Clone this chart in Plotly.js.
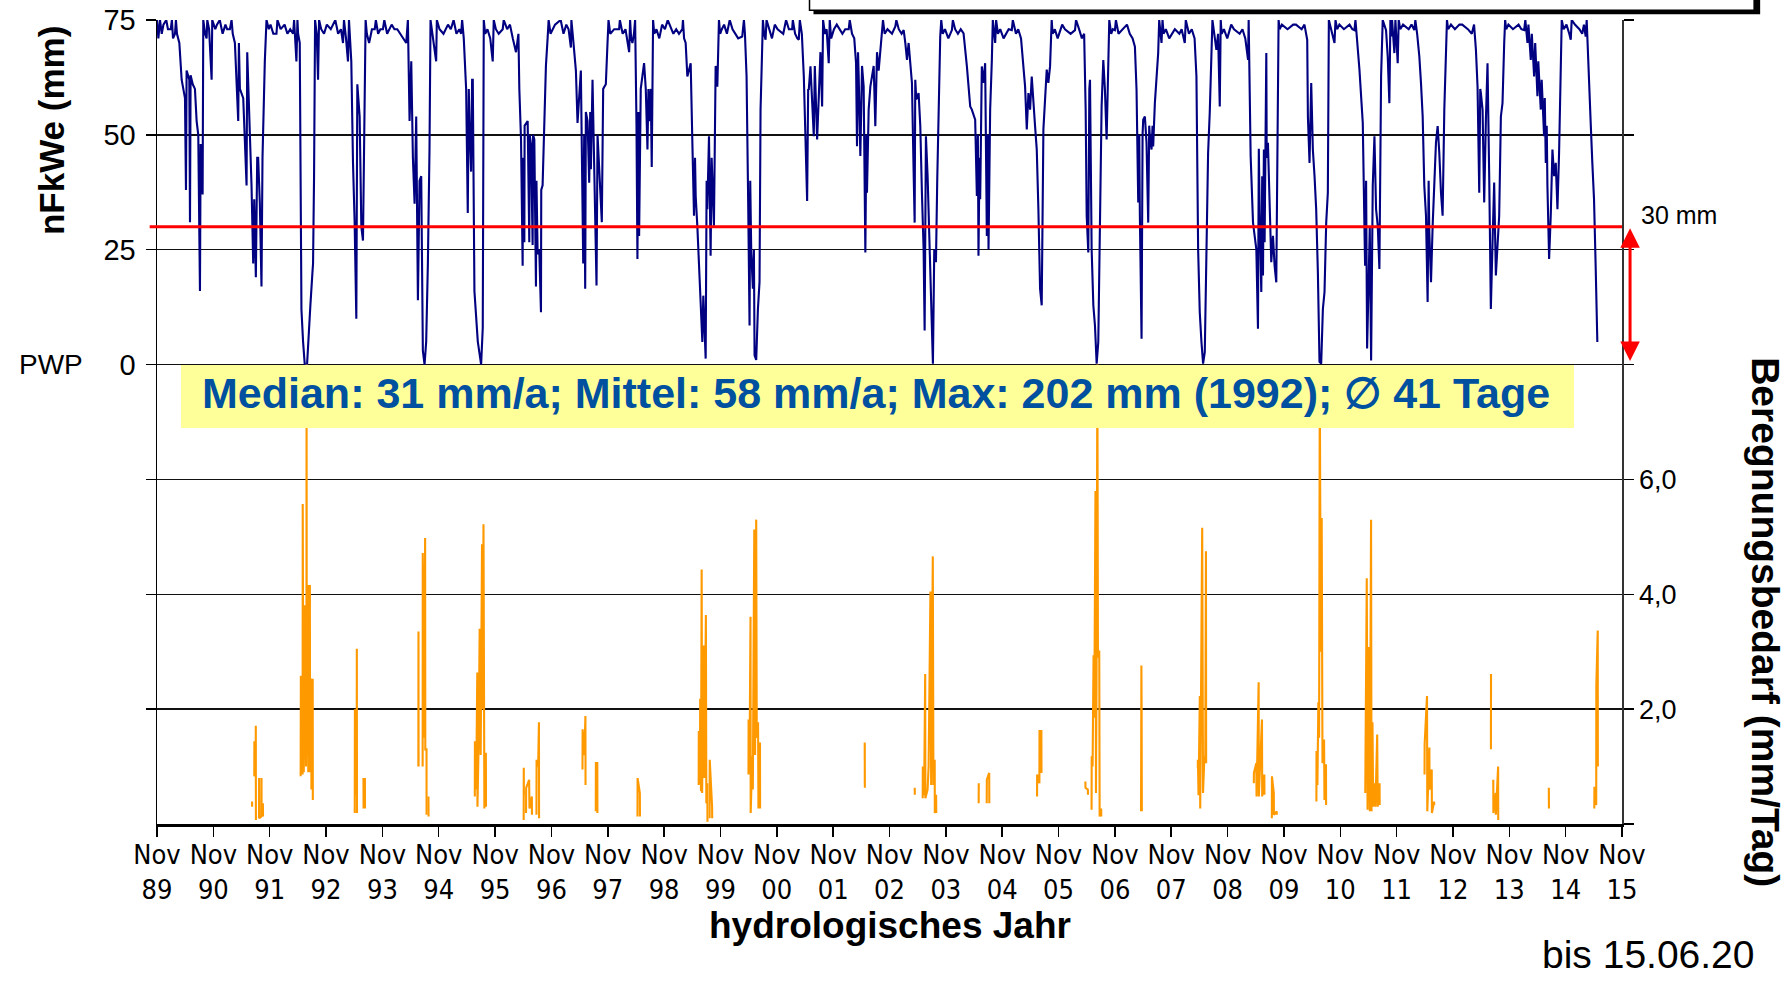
<!DOCTYPE html>
<html>
<head>
<meta charset="utf-8">
<script src="https://cdn.plot.ly/plotly-3.0.1.min.js"></script>
<style>
html,body{margin:0;padding:0;background:#fff;}
#chart{width:1789px;height:981px;}
</style>
</head>
<body>
<div id="chart"></div>
<script>
// ---- tick labels (hydrological years start in November) ----
const tickYears = [1989,1990,1991,1992,1993,1994,1995,1996,1997,1998,1999,2000,2001,2002,2003,2004,2005,2006,2007,2008,2009,2010,2011,2012,2013,2014,2015];
const novFraction = 0.8356; // 1 November as fraction of the calendar year

// ---- nFkWe (mm), soil water (decimal year, value) ----
const nfkT = [
1989.836,1989.86,1989.889,1989.95,1990.00,1990.08,1990.10,1990.155,1990.172,1990.232,1990.273,1990.302,1990.332,1990.350,1990.361,1990.409,1990.421,1990.432,1990.470,1990.509,1990.539,1990.568,1990.598,1990.610,1990.645,1990.657,1990.716,1990.728,1990.805,1990.816,
1990.90,1990.95,1991.05,1991.129,1991.159,1991.218,1991.277,1991.289,1991.307,1991.366,1991.395,1991.425,1991.437,1991.484,1991.513,1991.543,1991.561,1991.590,1991.614,1991.631,1991.661,1991.690,1991.708,1991.749,1991.779,
1991.85,1991.956,1991.973,1992.10,1992.251,1992.269,1992.310,1992.328,1992.369,1992.399,1992.428,1992.458,1992.499,1992.535,1992.558,1992.594,1992.605,1992.623,1992.641,1992.694,1992.712,
1992.85,1993.00,1993.137,1993.154,1993.225,1993.243,1993.284,1993.314,1993.343,1993.373,1993.391,1993.432,1993.462,1993.491,1993.509,1993.538,
1993.70,1993.72,1993.845,1993.87,1994.00,1994.10,1994.259,1994.288,1994.318,1994.348,1994.377,1994.407,1994.436,1994.466,1994.495,1994.525,1994.554,1994.584,1994.613,1994.643,1994.672,1994.690,1994.790,1994.802,
1995.00,1995.10,1995.233,1995.251,1995.322,1995.351,1995.369,1995.381,1995.410,1995.428,1995.440,1995.469,1995.499,1995.529,1995.588,1995.617,1995.635,1995.794,1995.812,
1995.971,1995.989,1996.10,1996.207,1996.25,1996.266,1996.296,1996.325,1996.33,1996.355,1996.36,1996.384,1996.414,1996.443,1996.45,1996.473,1996.502,1996.51,1996.532,1996.561,1996.57,1996.591,1996.620,1996.650,1996.655,1996.679,1996.709,1996.738,1996.768,1996.786,
1996.90,1997.00,1997.10,1997.181,1997.19,1997.270,1997.299,1997.329,1997.358,1997.400,1997.417,1997.435,1997.447,1997.477,1997.506,1997.524,1997.536,1997.565,1997.595,1997.636,1997.654,1997.671,1997.701,1997.730,1997.754,1997.801,1997.831,1997.849,
1998.037,1998.05,1998.215,1998.232,1998.273,1998.321,1998.345,1998.362,1998.380,1998.392,1998.421,1998.439,1998.480,1998.510,1998.540,1998.557,1998.569,1998.599,1998.616,1998.640,
1998.80,1998.90,1999.159,1999.17,1999.218,1999.248,1999.307,1999.337,1999.366,1999.384,1999.396,1999.425,1999.455,1999.484,1999.514,1999.531,1999.543,1999.573,1999.590,1999.602,1999.632,1999.661,1999.679,1999.691,1999.720,1999.750,1999.780,1999.809,
1999.90,2000.00,2000.222,2000.252,2000.299,2000.329,2000.352,2000.364,2000.382,2000.411,2000.429,2000.441,2000.470,2000.500,2000.529,2000.547,2000.565,2000.589,2000.636,2000.653,
2000.80,2001.00,2001.108,2001.12,2001.226,2001.244,2001.315,2001.344,2001.374,2001.392,2001.403,2001.433,2001.462,2001.492,2001.510,2001.551,2001.581,2001.610,2001.640,2001.657,2001.757,2001.775,
2001.90,2002.112,2002.130,2002.242,2002.259,2002.277,2002.289,2002.318,2002.348,2002.377,2002.407,2002.425,2002.436,2002.466,2002.496,2002.525,2002.555,2002.584,2002.614,2002.643,2002.702,2002.720,
2002.939,2002.957,2003.087,2003.116,2003.146,2003.175,2003.205,2003.234,2003.264,2003.282,2003.293,2003.311,2003.352,2003.382,2003.411,2003.441,2003.459,2003.471,2003.482,2003.512,2003.541,2003.571,2003.589,2003.606,2003.630,2003.660,2003.683,2003.707,2003.736,2003.754,
2003.943,2003.96,2004.150,2004.209,2004.268,2004.297,2004.356,2004.386,2004.404,2004.415,2004.433,2004.445,2004.463,2004.474,2004.504,2004.533,2004.563,2004.581,2004.593,2004.622,2004.652,2004.669,2004.711,2004.728,
2005.006,2005.024,2005.213,2005.242,2005.272,2005.301,2005.331,2005.360,2005.419,2005.449,2005.478,2005.508,2005.537,2005.555,2005.567,2005.626,2005.655,2005.685,2005.714,
2005.90,2006.128,2006.146,2006.317,2006.335,2006.364,2006.382,2006.394,2006.423,2006.453,2006.482,2006.512,2006.541,2006.571,2006.600,2006.630,2006.659,2006.689,2006.707,2006.718,2006.736,2006.836,2006.854,
2007.05,2007.191,2007.220,2007.250,2007.268,2007.279,2007.309,2007.327,2007.338,2007.368,2007.397,2007.427,2007.445,2007.456,2007.486,2007.504,2007.515,2007.545,2007.604,2007.622,2007.663,2007.681,
2008.076,2008.094,2008.283,2008.313,2008.342,2008.372,2008.401,2008.431,2008.460,2008.490,2008.519,2008.549,2008.567,2008.637,2008.667,2008.697,2008.714,
2008.90,2009.199,2009.21,2009.245,2009.287,2009.316,2009.346,2009.375,2009.390,2009.405,2009.434,2009.45,2009.464,2009.48,2009.493,2009.523,2009.530,2009.552,2009.582,2009.611,2009.641,2009.670,2009.700,2009.729,2009.741,
2010.00,2010.249,2010.261,2010.290,2010.320,2010.349,2010.379,2010.408,2010.438,2010.467,2010.497,2010.527,2010.556,2010.586,2010.615,2010.633,2010.733,2010.751,
2011.087,2011.105,2011.146,2011.176,2011.235,2011.276,2011.294,2011.312,2011.341,2011.359,2011.383,2011.412,2011.442,2011.471,2011.501,2011.530,2011.560,2011.589,2011.648,2011.678,2011.707,2011.725,2011.737,2011.755,2011.796,2011.814,2011.855,2011.873,
2012.150,2012.168,2012.239,2012.268,2012.298,2012.327,2012.357,2012.386,2012.404,2012.416,2012.446,2012.475,2012.505,2012.534,2012.564,2012.593,2012.623,2012.652,2012.682,2012.711,2012.729,
2012.95,2013.243,2013.272,2013.302,2013.320,2013.331,2013.361,2013.390,2013.420,2013.449,2013.479,2013.508,2013.538,2013.567,2013.597,2013.627,2013.656,2013.686,2013.715,2013.745,2013.762,
2014.099,2014.12,2014.158,2014.175,2014.217,2014.235,2014.276,2014.295,2014.335,2014.350,2014.394,2014.410,2014.453,2014.465,2014.483,2014.500,2014.512,2014.542,2014.571,2014.601,2014.631,2014.660,2014.690,2014.719,2014.749,2014.766,2014.926,2014.943,
2015.191,2015.209,2015.250,2015.280,2015.309,2015.339,2015.368,2015.386,2015.398
];
const nfkV = [
75,71,75,74,75,73,75,72,75,70,62,60,58,38,64,62,31,63,61,60,53,50,16,48,37,75,71,75,62,75,
74,75,74,73,75,70,53,70,60,58,49,39,68,52,39,22,36,19,45,45,35,17,45,66,75,
74,72,75,74,72,75,66,75,70,12,5,0,0,10,13,20,22,41,75,62,75,
74,75,70,75,66,75,66,44,31,10,61,54,30,27,48,75,
73,75,73,75,74,73,70,75,53,66,45,35,54,14,40,41,3,0,5,22,47,75,66,75,
74,75,72,75,60,33,60,53,42,62,62,16,10,5,0,8,75,66,75,
73,75,74,68,72,60,49,21.5,45,26.6,52,52.6,53,26.6,50,48,26,50,49,17,40,24,25,11.4,38,39,55,65,71,75,
74,75,74,69,75,64,52.6,60,64,22,50,16.5,55,53,39.6,55,42.5,62,43,17.2,50,46,38,31,60,61,70,75,
73,75,68,75,70,75,52.6,23,55,28,60,62,65.6,60,46.8,60,53,60,43,75,
74,75,73,75,70,62.7,65.6,48.3,32.4,45,36.7,30.2,20.8,15.8,4.9,15,10,1.3,40,33.8,49.7,23.7,45,41,30.2,65,60.5,75,
74,75,71.4,75,62.7,33.8,8.5,40,24.4,16.5,25,2,1,12,18,55.5,64,75,70.7,75,
74,75,73,75,70.7,75,62.7,46.8,35.6,60,59.8,64.9,55.5,49.7,65,49,58.4,68,56.2,75,65.6,75,
74,73,75,65.6,47.5,68,62.7,45.4,65,60.5,24.4,50,37.4,55.5,60.5,62.7,65,51.9,68,64,71.4,75,
73.6,75,72.8,70,66.3,70,65.6,61.3,41.8,30.9,62,57.7,59.1,51.9,37.4,25.1,7.4,40,49.7,41,27.3,10.7,4.9,0.2,25.1,22.3,40.3,54.8,71.4,75,
72.8,75,72.1,64.9,56.2,55.5,53.3,36.7,50,23.7,45,36,62,64.9,61.3,65.6,28,50,25.1,55.5,66.3,75,70,75,
72.8,75,65.6,60.5,51.2,59.1,55.5,62.7,51.9,46.8,33.8,16.5,12.9,45,51.2,64.2,61.3,64.9,75,
74,72.8,75,55.5,32.4,24.4,60,62,25.1,12.9,8.5,0.2,4.9,26.6,56.2,66.3,59.8,49,60,59.8,75,72.8,75,
74,69.2,59.8,35.3,50,32.4,5.6,50,53.3,54,48.3,30.9,52,49.7,46.8,52,47.5,56.9,67.8,75,70,75,
70,75,62.7,25.1,11.4,4.9,0.2,2.7,21.5,46.1,54.8,67.8,75,68.5,72,56.2,75,
74,66.3,75,45.4,30.9,28,25.1,7.8,47,33,15.8,41,19.4,46.8,26.6,67.8,45,48.3,31.6,22.3,28,21.5,17.9,49.7,75,
74,70.7,54,43.9,61.3,46.8,41,33.8,20.1,0.6,0.2,12.1,15.8,30.9,37.4,75,70,75,
72.8,75,68.5,64.2,52.6,21.5,40,3.5,19.4,30,0.9,38.9,49.7,33.8,30.2,20.8,62.7,75,72.8,67,56.9,75,71.4,75,67.8,75,65.6,75,
72.8,75,67,61.3,54,38.9,32.4,13.6,40,28.8,17.9,30.2,39.6,48.3,51.9,46.1,37.4,32.4,55.5,71.4,75,
74,68.5,60.5,37.4,60,59.1,55.5,35.3,53.3,65.6,41,12.1,26.6,39.6,19.4,27.3,32.4,54,56.9,70,75,
72.8,75,70,74,66.3,72,62.7,70,58.4,66,55.5,62,49.7,58,43.9,52,38.9,23,32.4,46.8,41,43.9,33.8,46.1,71.4,75,70.7,75,
71.4,75,59.1,52.6,43.9,36,21.5,12.1,4.9
];

// small dips of the nFkWe line near field capacity (wet seasons)
const nfkTopT = [
1989.92,1990.03,1990.12,1990.19,1990.69,1990.76,1990.87,1991.00,1991.08,1991.18,
1991.82,1991.90,1992.03,1992.15,1992.20,1992.29,1992.34,1992.67,1992.75,1992.80,1992.92,1993.05,1993.10,1993.19,
1993.56,1993.60,1993.65,1993.76,1993.80,1993.92,1994.05,1994.15,1994.20,1994.72,1994.75,1994.85,1994.92,1995.05,1995.15,1995.20,1995.28,
1995.66,1995.70,1995.75,1995.85,1995.90,1996.05,1996.15,1996.82,1996.86,1997.05,1997.14,1997.22,
1997.88,1997.95,1998.10,1998.15,1998.25,1998.30,1998.66,1998.70,1998.75,1998.85,1999.00,1999.05,1999.10,1999.19,
1999.83,1999.86,1999.95,2000.05,2000.10,2000.15,2000.27,2000.61,2000.70,2000.75,2000.85,2000.95,2001.05,2001.16,2001.20,2001.28,
2001.69,2001.72,2001.80,2001.85,2002.00,2002.05,2002.17,2002.21,2002.75,2002.80,2002.88,2003.00,2003.05,
2003.78,2003.82,2003.88,2004.00,2004.05,2004.10,2004.76,2004.80,2004.86,2004.95,2005.08,2005.12,2005.17,
2005.73,2005.77,2005.82,2005.95,2006.05,2006.20,2006.25,2006.29,2006.77,2006.80,2006.90,2006.97,2007.10,2007.15,
2007.70,2007.74,2007.80,2007.90,2007.98,2008.02,2008.15,2008.20,2008.25,2008.73,2008.77,2008.83,2008.95,2009.05,2009.10,2009.15,
2009.76,2009.80,2009.90,2010.05,2010.15,2010.20,2010.78,2010.82,2010.90,2011.00,2011.05,
2011.90,2011.95,2012.05,2012.10,2012.20,2012.75,2012.80,2012.87,2013.00,2013.10,2013.17,2013.21,
2013.78,2013.82,2013.90,2014.00,2014.05,2014.80,2014.85,2014.90,2015.00,2015.08,2015.13,2015.16
];
const nfkTopV = [
72,73,71,72,72,73,73,72,73,72,
73,72,73,72,73,71,72,72,73,72,73,72,73,71,
72,70,73,72,73,72,73,72,71,72,70,73,72,73,72,73,71,
72,73,71,73,72,73,71,72,73,72,73,71,
72,73,72,73,71,72,72,73,71,73,72,73,72,71,
72,73,72,73,72,71,72,72,73,71,73,72,73,72,71,72,
72,73,71,73,72,73,72,71,72,73,72,73,72,
72,73,71,73,72,73,72,73,71,73,72,73,71,
72,73,71,73,72,73,71,72,72,73,72,73,72,71,
72,73,71,73,72,73,72,73,71,72,73,71,73,72,73,71,
73,74,73,74,73,74,73,74,73,74,73,
73,74,73,74,72,73,74,73,74,73,72,74,
73,74,73,74,73,73,74,72,74,73,72,74
];

// ---- Beregnungsbedarf (mm/Tag), irrigation demand; null = no demand (gap) ----
const irrT = [
1991.522,1991.524,null,1991.562,1991.564,1991.566,1991.587,1991.589,1991.591,null,1991.646,1991.648,1991.650,1991.688,1991.690,1991.692,1991.715,1991.717,null,
1992.385,1992.389,1992.392,1992.400,1992.405,1992.410,1992.420,1992.422,1992.430,1992.440,1992.450,1992.456,1992.460,1992.470,1992.480,1992.488,1992.490,1992.494,1992.505,1992.515,1992.520,1992.530,1992.540,1992.549,1992.552,1992.562,1992.574,1992.576,1992.588,1992.599,1992.601,null,
1993.345,1993.348,1993.352,1993.380,1993.382,1993.385,null,1993.500,1993.502,1993.525,1993.527,null,
1994.474,1994.476,1994.478,null,1994.550,1994.552,1994.575,1994.594,1994.597,1994.619,1994.620,null,1994.653,1994.655,null,
1995.476,1995.478,1995.500,1995.520,1995.523,1995.545,1995.562,1995.580,1995.604,1995.615,1995.630,1995.640,1995.646,1995.660,1995.672,1995.674,null,
1996.343,1996.345,1996.347,null,1996.385,1996.387,1996.440,1996.446,1996.488,1996.490,null,1996.570,1996.572,1996.600,1996.614,1996.616,null,
1997.387,1997.389,1997.420,1997.439,1997.441,null,1997.623,1997.625,1997.650,1997.652,null,
1998.363,1998.365,1998.405,1998.407,null,
1999.449,1999.451,1999.470,1999.476,1999.490,1999.502,1999.510,1999.535,1999.550,1999.577,1999.585,1999.603,1999.605,null,1999.643,1999.645,1999.687,1999.689,null,
2000.333,2000.335,2000.350,2000.369,2000.372,2000.400,2000.410,2000.436,2000.450,2000.470,2000.480,2000.503,2000.510,2000.537,2000.539,null,
2002.396,2002.398,null,
2003.283,2003.285,null,2003.425,2003.427,2003.450,2003.469,2003.472,2003.511,2003.530,2003.562,2003.575,2003.604,2003.615,2003.638,2003.640,2003.663,2003.665,null,
2004.418,2004.420,null,2004.561,2004.563,2004.605,2004.607,null,
2005.454,2005.456,2005.496,2005.498,2005.531,2005.533,null,
2006.312,2006.314,2006.356,2006.358,null,2006.422,2006.424,2006.440,2006.457,2006.470,2006.491,2006.500,2006.510,2006.525,2006.535,2006.558,2006.565,2006.592,2006.594,null,
2007.300,2007.302,2007.306,2007.310,2007.314,null,
2008.307,2008.309,2008.320,2008.343,2008.350,2008.385,2008.400,2008.419,2008.440,2008.452,2008.455,null,
2009.301,2009.303,2009.345,2009.350,2009.387,2009.390,2009.446,2009.450,2009.488,2009.490,null,2009.621,2009.623,2009.656,2009.658,2009.707,2009.709,null,
2010.412,2010.414,2010.430,2010.447,2010.460,2010.472,2010.490,2010.506,2010.520,2010.548,2010.555,2010.582,2010.584,null,
2011.279,2011.281,2011.306,2011.320,2011.348,2011.360,2011.382,2011.390,2011.407,2011.420,2011.449,2011.460,2011.491,2011.500,2011.533,2011.535,null,
2012.331,2012.333,2012.375,2012.380,2012.417,2012.420,2012.459,2012.462,2012.501,2012.503,null,
2013.509,2013.511,null,2013.551,2013.553,2013.595,2013.597,2013.637,2013.639,null,
2014.537,2014.539,null,
2015.344,2015.346,2015.378,2015.380,2015.405,2015.407
];
const irrV = [
0.39,0.30,null,0.83,1.44,0.83,0.9,1.71,0.07,null,0.10,0.80,0.10,0.13,0.80,0.13,0.36,0.13,null,
0.83,2.58,0.83,2.4,1.0,2.5,0.86,5.57,2.6,0.9,2.6,3.81,1.5,2.6,1.0,2.0,8.0,1.2,2.6,4.16,0.9,2.5,1.0,4.16,0.9,2.5,2.53,0.6,1.6,2.53,0.42,null,
0.19,2.0,0.5,1.0,3.05,0.19,null,0.80,0.27,0.80,0.27,null,
1.0,3.35,1.0,null,1.0,4.72,1.5,4.98,1.3,1.30,0.16,null,0.48,0.13,null,
0.48,1.44,0.6,2.64,0.3,1.5,3.40,1.2,4.87,2.0,5.22,1.59,0.27,1.0,1.24,0.30,null,
0.07,0.98,0.5,null,0.19,0.63,0.77,0.27,0.48,0.16,null,0.16,1.12,1.0,1.77,0.10,null,
0.95,1.65,1.2,1.88,0.68,null,0.22,1.06,1.06,0.19,null,
0.13,0.80,0.54,0.13,null,
0.68,1.62,0.7,2.18,0.57,4.43,0.54,3.11,0.8,3.64,0.36,0.71,0.04,null,0.10,1.12,0.30,0.10,null,
0.86,1.82,0.9,3.61,0.19,1.18,0.6,5.13,1.2,5.30,1.5,1.77,0.27,1.42,0.27,null,
1.42,0.63,null,
0.63,0.51,null,0.45,1.0,0.5,2.61,0.45,0.60,1.0,4.05,0.68,4.66,0.68,1.12,0.19,0.51,0.19,null,
0.36,0.71,null,0.36,0.77,0.89,0.36,null,
0.48,0.86,0.71,1.62,1.62,0.89,null,
0.74,0.63,0.60,0.51,null,0.25,1.18,1.0,2.94,1.85,5.80,0.54,2.5,8.0,2.9,3.02,0.13,0.27,0.13,null,
0.22,2.0,2.76,2.0,0.22,null,
0.98,1.12,0.5,2.23,0.27,5.16,0.54,1.04,1.2,4.75,1.06,null,
0.71,0.89,1.06,0.48,2.47,0.48,1.82,0.48,0.86,0.51,null,0.10,0.83,0.54,0.16,0.22,0.16,null,
0.39,1.27,0.68,2.12,1.5,7.8,3.0,5.33,1.06,1.47,0.42,1.04,0.33,null,
0.54,1.06,4.28,0.25,3.08,0.22,5.30,0.22,1.77,0.30,0.71,0.30,1.56,0.30,0.71,0.33,null,
0.86,1.39,2.23,0.22,1.33,0.60,0.95,0.19,0.39,0.33,null,
1.30,2.61,null,0.77,0.19,0.54,0.16,1.0,0.07,null,
0.63,0.27,null,
0.27,0.65,0.33,2.41,3.37,1.0
];

// ---- axis ticks / labels ----
const leftTickVals = [-75,-50,-25,0,25,50,75];
const leftTickText = ['','','','0','25','50','75'];
const rightTickVals = [0,2,4,6,8,10,12,14];
const rightTickText = ['','2,0','4,0','6,0','','','',''];
const thresholdMm = 30;
const statsText = 'Median: 31 mm/a; Mittel: 58 mm/a; Max: 202 mm (1992); \u2205 41 Tage';

// merge the main nFkWe readings with the small wet-season dips (sorted by time)
const nfkPairs = nfkT.map((t, i) => [t, nfkV[i]]).concat(nfkTopT.map((t, i) => [t, nfkTopV[i]]));
nfkPairs.sort((a, b) => a[0] - b[0]);
const nfkX = nfkPairs.map(p => p[0]);
const nfkY = nfkPairs.map(p => p[1]);

const FONT = "'Liberation Sans', Arial, sans-serif";
const NARROW = "'Liberation Sans Narrow', 'Arial Narrow', 'DejaVu Sans Condensed', 'Liberation Sans', sans-serif";

const traces = [
  {x: nfkX, y: nfkY, type: 'scatter', mode: 'lines', name: 'nFkWe',
   line: {color: '#000080', width: 2.1}, yaxis: 'y', hoverinfo: 'skip'},
  {x: irrT, y: irrV, type: 'scatter', mode: 'lines', name: 'Beregnungsbedarf',
   line: {color: '#FF9900', width: 2.1}, yaxis: 'y2', connectgaps: false, hoverinfo: 'skip'}
];

const layout = {
  width: 1789, height: 981,
  margin: {l: 157, r: 167, t: 20, b: 157},
  paper_bgcolor: '#fff', plot_bgcolor: '#fff',
  showlegend: false,
  font: {family: FONT, color: '#000'},
  xaxis: {
    range: [tickYears[0] + novFraction, tickYears[tickYears.length-1] + novFraction],
    tickvals: tickYears.map(y => y + novFraction),
    ticktext: tickYears.map(y => 'Nov<br>' + String(y).slice(2)),
    tickmode: 'array',
    showgrid: false, zeroline: false,
    ticks: 'outside', ticklen: 10, tickwidth: 1.5, tickcolor: '#000',
    showline: true, linecolor: '#000', linewidth: 2.5,
    tickfont: {family: NARROW, size: 27, color: '#000'},
    ticklabelstandoff: -5
  },
  yaxis: {
    range: [-100, 75],
    tickmode: 'array', tickvals: leftTickVals, ticktext: leftTickText,
    showgrid: true, gridcolor: '#111', gridwidth: 1.5,
    zeroline: false,
    ticks: 'outside', ticklen: 10, tickwidth: 1.5, tickcolor: '#000',
    showline: true, linecolor: '#000', linewidth: 1.5,
    tickfont: {family: FONT, size: 29, color: '#000'},
    ticklabelstandoff: 4
  },
  yaxis2: {
    range: [0, 14], overlaying: 'y', side: 'right',
    tickmode: 'array', tickvals: rightTickVals, ticktext: rightTickText,
    showgrid: false, zeroline: false,
    ticks: 'outside', ticklen: 10, tickwidth: 1.5, tickcolor: '#000',
    showline: true, linecolor: '#333', linewidth: 1.5,
    tickfont: {family: FONT, size: 27, color: '#000'},
    ticklabelstandoff: 0
  },
  shapes: [
    // 30 mm threshold
    {type: 'line', xref: 'paper', yref: 'y', x0: -0.005, x1: 1, y0: thresholdMm, y1: thresholdMm,
     line: {color: '#FF0000', width: 3}, layer: 'above'},
    // yellow statistics box
    {type: 'rect', xref: 'paper', yref: 'paper', x0: 0.0164, x1: 0.9672, y0: 0.4925, y1: 0.5709,
     fillcolor: '#FFFF99', line: {width: 0}, layer: 'above'},
    // partially visible legend box at the top (shadow + frame)
    {type: 'rect', xref: 'paper', yref: 'paper', x0: 0.4481, x1: 1.0943, y0: 1.0071, y1: 1.05,
     fillcolor: '#000', line: {width: 0}, layer: 'above'},
    {type: 'rect', xref: 'paper', yref: 'paper', x0: 0.4454, x1: 1.0902, y0: 1.0121, y1: 1.06,
     fillcolor: '#fff', line: {color: '#000', width: 1.5}, layer: 'above'}
  ],
  annotations: [
    {text: '<b>hydrologisches Jahr</b>', xref: 'paper', yref: 'paper', x: 0.5, y: -0.126,
     xanchor: 'center', yanchor: 'middle', showarrow: false,
     font: {family: FONT, size: 37, color: '#000'}},
    {text: '<b>nFkWe (mm)</b>', textangle: -90, xref: 'paper', yref: 'paper',
     x: -0.0716, y: 0.862, xanchor: 'center', yanchor: 'middle', showarrow: false,
     font: {family: FONT, size: 35, color: '#000'}},
    {text: '<b>Beregnungsbedarf (mm/Tag)</b>', textangle: 90, xref: 'paper', yref: 'paper',
     x: 1.0983, y: 0.251, xanchor: 'center', yanchor: 'middle', showarrow: false,
     font: {family: FONT, size: 39, color: '#000'}},
    {text: 'PWP', xref: 'paper', yref: 'y', x: -0.0956, y: 0, xanchor: 'left', yanchor: 'middle',
     showarrow: false, font: {family: FONT, size: 28, color: '#000'}},
    {text: '30 mm', xref: 'paper', yref: 'y', x: 1.0116, y: 32.5, xanchor: 'left', yanchor: 'middle',
     showarrow: false, font: {family: FONT, size: 25, color: '#000'}},
    {text: '', xref: 'paper', yref: 'y', x: 1.0055, y: 0.8, axref: 'pixel', ax: 0, ayref: 'y', ay: thresholdMm,
     showarrow: true, arrowhead: 2, arrowside: 'end+start', arrowsize: 1.3, arrowwidth: 3, arrowcolor: '#FF0000'},
    {text: '<b>' + statsText + '</b>', xref: 'paper', yref: 'paper', x: 0.0293, y: 0.536,
     xanchor: 'left', yanchor: 'middle', showarrow: false,
     font: {family: FONT, size: 43, color: '#0050A0'}},
    {text: 'bis 15.06.20', xref: 'paper', yref: 'paper', x: 0.944, y: -0.1915,
     xanchor: 'left', yanchor: 'bottom', showarrow: false,
     font: {family: FONT, size: 39, color: '#000'}}
  ]
};

Plotly.newPlot('chart', traces, layout, {displayModeBar: false, staticPlot: true});
</script>
</body>
</html>
